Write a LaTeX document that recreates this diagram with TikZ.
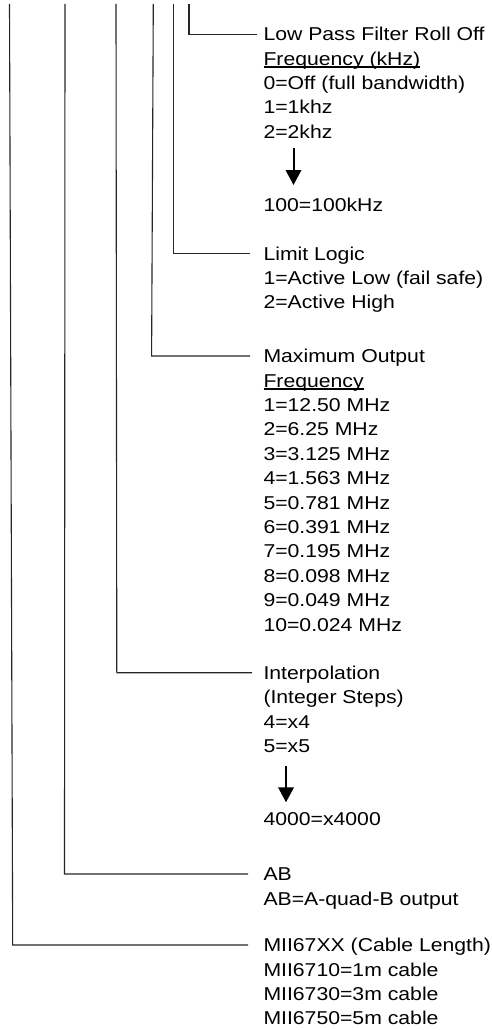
\documentclass[tikz,border=0pt]{standalone}
\usepackage{fontspec}
\setmainfont{Liberation Sans}[FakeStretch=1.14]
\usetikzlibrary{arrows.meta}
\newcommand\myul[1]{\setbox0\hbox{#1}\rlap{\rule[-2.6pt]{\wd0}{1.3pt}}\box0}
\tikzset{
  txt/.style={anchor=base west, inner sep=0pt, outer sep=0pt, font=\fontsize{18.6}{22}\selectfont},
  leader/.style={line width=1.1pt, draw=black!85},
  steparrow/.style={line width=2pt, -{Triangle[width=15.5pt,length=15pt]}}
}
\begin{document}
\begin{tikzpicture}[x=1pt,y=-1pt]
\useasboundingbox (0,0) rectangle (491,1030);
% leader coordinates
\coordinate (v1) at (189,4);   \coordinate (c1) at (189,34.3);  \coordinate (e1) at (257,34.3);
\coordinate (v2) at (173.3,4); \coordinate (c2) at (173.3,253.3); \coordinate (e2) at (250,253.3);
\coordinate (v3) at (153.3,4); \coordinate (c3) at (151.6,356);  \coordinate (e3) at (250,356);
\coordinate (v4) at (116,4);   \coordinate (c4) at (116.8,672.7); \coordinate (e4) at (252,672.7);
\coordinate (v5) at (65,4);    \coordinate (c5) at (64.5,874);   \coordinate (e5) at (248,874);
\coordinate (v6) at (9.5,4);   \coordinate (c6) at (12.7,945);   \coordinate (e6) at (248,945);
\draw[leader] (v1) -- (c1) -- (e1);
\draw[leader] (v2) -- (c2) -- (e2);
\draw[leader] (v3) -- (c3) -- (e3);
\draw[leader] (v4) -- (c4) -- (e4);
\draw[leader] (v5) -- (c5) -- (e5);
\draw[leader] (v6) -- (c6) -- (e6);
% block 1
\node[txt] (b1a) at (263.5,40.7) {Low Pass Filter Roll Off};
\node[txt] (b1b) at (263.5,65.1) {\myul{Frequency (kHz)}};
\node[txt] (b1c) at (263.5,89.5) {0=Off (full bandwidth)};
\node[txt] (b1d) at (263.5,113.9) {1=1khz};
\node[txt] (b1e) at (263.5,138.3) {2=2khz};
\node[txt] (b1f) at (263.5,211.5) {100=100kHz};
\coordinate (a1s) at (293.5,148);
\coordinate (a1e) at (293.5,185);
\draw[steparrow] (a1s) -- (a1e);
% block 2
\node[txt] (b2a) at (263.5,260.0) {Limit Logic};
\node[txt] (b2b) at (263.5,284.4) {1=Active Low (fail safe)};
\node[txt] (b2c) at (263.5,308.8) {2=Active High};
% block 3
\node[txt] (b3a) at (263.5,362.7) {Maximum Output};
\node[txt] (b3b) at (263.5,387.1) {\myul{Frequency}};
\node[txt] (b3c) at (263.5,411.5) {1=12.50 MHz};
\node[txt] (b3d) at (263.5,435.9) {2=6.25 MHz};
\node[txt] (b3e) at (263.5,460.3) {3=3.125 MHz};
\node[txt] (b3f) at (263.5,484.7) {4=1.563 MHz};
\node[txt] (b3g) at (263.5,509.1) {5=0.781 MHz};
\node[txt] (b3h) at (263.5,533.5) {6=0.391 MHz};
\node[txt] (b3i) at (263.5,557.9) {7=0.195 MHz};
\node[txt] (b3j) at (263.5,582.3) {8=0.098 MHz};
\node[txt] (b3k) at (263.5,606.7) {9=0.049 MHz};
\node[txt] (b3l) at (263.5,631.1) {10=0.024 MHz};
% block 4
\node[txt] (b4a) at (263.5,679.4) {Interpolation};
\node[txt] (b4b) at (263.5,703.8) {(Integer Steps)};
\node[txt] (b4c) at (263.5,728.2) {4=x4};
\node[txt] (b4d) at (263.5,752.6) {5=x5};
\node[txt] (b4e) at (263.5,825.8) {4000=x4000};
\coordinate (a2s) at (286,766);
\coordinate (a2e) at (286,802.3);
\draw[steparrow] (a2s) -- (a2e);
% block 5
\node[txt] (b5a) at (263.5,880.7) {AB};
\node[txt] (b5b) at (263.5,905.1) {AB=A-quad-B output};
% block 6
\node[txt] (b6a) at (263.5,951.7) {MII67XX (Cable Length)};
\node[txt] (b6b) at (263.5,976.1) {MII6710=1m cable};
\node[txt] (b6c) at (263.5,1000.5) {MII6730=3m cable};
\node[txt] (b6d) at (263.5,1024.9) {MII6750=5m cable};
\end{tikzpicture}
\end{document}
